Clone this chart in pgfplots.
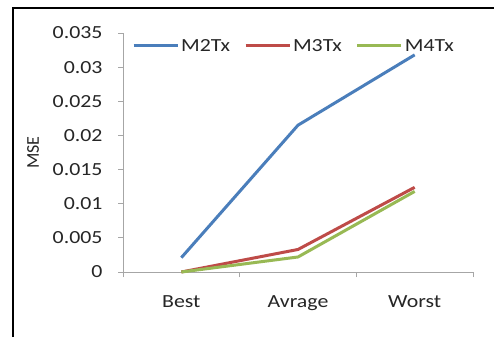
\documentclass[border=0pt]{standalone}
\usepackage{fontspec}
\setmainfont[FakeStretch=1.18]{Carlito}
\newfontfamily\plainf{Carlito}
\usepackage{pgfplots}
\pgfplotsset{compat=1.18}
\definecolor{cblue}{HTML}{4A7EBB}
\definecolor{cred}{HTML}{BE4B48}
\definecolor{cgreen}{HTML}{98B954}
\begin{document}
\begin{tikzpicture}[x=1pt,y=1pt]
\useasboundingbox (0,0) rectangle (494,337);
\fill[white] (0,0) rectangle (494,337);
\draw[black, line width=2pt] (13,0) -- (13,328.5) -- (494,328.5);
\begin{axis}[
  at={(123pt,65pt)}, anchor=south west,
  scale only axis, width=350pt, height=239pt,
  xmin=-0.5, xmax=2.5, ymin=0, ymax=0.035,
  axis lines=left,
  axis line style={draw=gray!70, -, line width=0.8pt},
  xtick={0,1,2}, xticklabels={Best,Avrage,Worst},
  major x tick style={draw=none},
  minor xtick={-0.5,0.5,1.5,2.5},
  minor tick length=5pt,
  minor x tick style={draw=gray!70, line width=0.8pt},
  ytick={0,0.005,0.01,0.015,0.02,0.025,0.03,0.035},
  yticklabels={0,0.005,0.01,0.015,0.02,0.025,0.03,0.035},
  scaled y ticks=false,
  major tick length=5pt,
  tick align=outside,
  y tick style={draw=gray!70, line width=0.8pt},
  tick label style={font=\fontsize{18.5}{19}\selectfont, text=black!85},
  xticklabel style={yshift=-15pt},
  yticklabel style={xshift=-12pt},
  ylabel={MSE},
  ylabel style={font=\plainf\fontsize{18}{18}\selectfont, text=black!85, at={(axis description cs:-0.257,0.5)}, anchor=center},
  legend style={draw=none, fill=none, at={(9pt,226pt)}, anchor=west, font=\fontsize{18.5}{19}\selectfont, text=black!85, /tikz/every even column/.append style={column sep=12pt}, inner sep=0pt, nodes={inner sep=2pt}},
  legend columns=3,
  legend image code/.code={\draw[#1, line width=3pt] (0pt,0pt) -- (44pt,0pt);},
  every axis plot/.append style={line width=3pt, line join=round},
  clip=false,
]
\addplot[cblue] coordinates {(0,0.0021) (1,0.0215) (2,0.0318)};
\addlegendentry{M2Tx}
\addplot[cred] coordinates {(0,0.0) (1,0.0033) (2,0.0124)};
\addlegendentry{M3Tx}
\addplot[cgreen] coordinates {(0,0.0) (1,0.0022) (2,0.0118)};
\addlegendentry{M4Tx}
\end{axis}
\end{tikzpicture}
\end{document}
